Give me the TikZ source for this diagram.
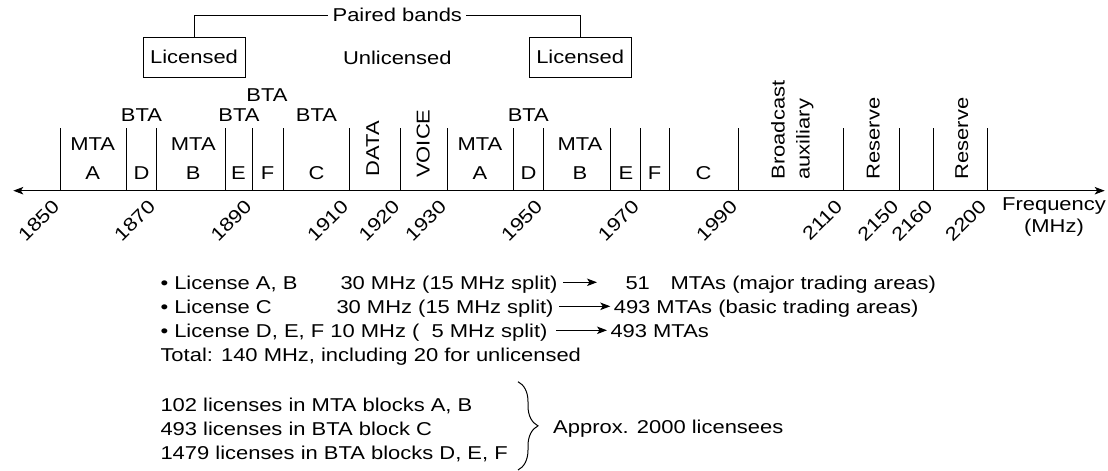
\documentclass[tikz,border=0pt]{standalone}
\usepackage{fontspec}
\setmainfont{Liberation Sans}[FakeStretch=1.18]
\usetikzlibrary{arrows.meta,positioning,decorations.pathreplacing}

\tikzset{
  lbl/.style={inner sep=0pt, anchor=base},
  txt/.style={inner sep=0pt, anchor=base west, text height=13.4pt, text depth=0pt},
  band/.style={draw, minimum width=102pt, minimum height=40pt, inner sep=0pt},
  vlbl/.style={inner sep=0pt, anchor=base west, rotate=90},
  yr/.style={inner sep=0pt, anchor=base east, rotate=45},
  arr/.style={->, shorten <=5pt, shorten >=3pt},
}

\begin{document}
\begin{tikzpicture}[x=1pt,y=-1pt,line width=1pt,
    font=\fontsize{18.6}{24}\selectfont,
    >={Stealth[length=10pt,width=7.5pt,inset=2.5pt]}]
    \useasboundingbox (0,0) rectangle (1108,471);

    % paired bands
    \node[band] (lic1) at (194,57.3) {Licensed};
    \node[band] (lic2) at (580.2,57.3) {Licensed};
    \node[lbl] (unlic) at (397.3,64.5) {Unlicensed};
    \node[lbl, inner sep=4pt] (paired) at (397.3,21.7) {Paired bands};
    \draw (lic1.north) |- (paired.west);
    \draw (paired.east) -| (lic2.north);

    % frequency axis
    \coordinate (left) at (13.3,190.7);
    \coordinate (right) at (1104.7,190.7);
    \draw[<->] (left) -- (right);
    \foreach \x in {60.3,126.7,156.3,225,252.7,283.3,349.3,400.7,447.3,513.3,
        543.3,610.7,640,669.3,738.3,843.3,899.7,933.7,987.3}
        \draw (\x,128.3) -- (\x,190.7);
    \foreach \x/\f in {60.3/1850,156.3/1870,252.7/1890,349.3/1910,400.7/1920,
        447.3/1930,543.3/1950,640/1970,738.3/1990,843.3/2110,899.7/2150,
        933.7/2160,987.3/2200}
        \node[yr] (f\f) at (\x+0.5,207.5) {\f};
    \node[lbl] (freq) at (1054,210.7) {Frequency};
    \node[lbl] (mhz) at (1054,232) {(MHz)};

    % blocks
    \foreach \x/\b [count=\i] in {92.7/A,193.3/B,480/A,580/B} {
        \node[lbl] (mta\i) at (\x,150) {MTA};
        \node[lbl] (mtab\i) at (\x,179) {\b};
    }
    \foreach \x/\b [count=\i] in {141.5/D,238.5/E,267.5/F,316.5/C,528.5/D,
        626/E,654.5/F,703.5/C}
        \node[lbl] (blk\i) at (\x,179) {\b};
    \foreach \x/\y [count=\i] in {141.5/121.7,239/121.7,267/101.7,316.5/121.7,
        528.3/121.7}
        \node[lbl] (bta\i) at (\x,\y) {BTA};
    \node[vlbl] (data) at (379,177) {DATA};
    \node[vlbl] (voice) at (429.5,178.3) {VOICE};
    \node[vlbl] (bcast) at (784.7,180) {Broadcast};
    \node[vlbl] (aux) at (809.5,180) {auxiliary};
    \node[vlbl] (res1) at (879.7,180) {Reserve};
    \node[vlbl] (res2) at (968,180) {Reserve};

    % licenses
    \node[txt] (ab) at (160,289) {• License A, B};
    \node[txt] (abmhz) at (340,289) {30 MHz (15 MHz split)};
    \node[txt] (abnum) at (625,289) {51};
    \node[txt] (abmta) at (670,289) {MTAs (major trading areas)};
    \node[txt] (c) at (160,313) {• License C};
    \node[txt] (cmhz) at (336,313) {30 MHz (15 MHz split)};
    \node[txt] (cmta) at (613.3,313) {493 MTAs (basic trading areas)};
    \node[txt] (def) at (160,337) {• License D, E, F 10 MHz (\phantom{1}5 MHz split)};
    \node[txt] (defmta) at (610,337) {493 MTAs};
    \node[txt] (total) at (160,361) {Total: 140 MHz, including 20 for unlicensed};
    \coordinate (abend) at (597,282.3);
    \draw[arr, shorten >=0pt] (abmhz.east) -- (abend);
    \draw[arr] (cmhz.east) -- (cmhz.east -| cmta.west);
    \draw[arr, shorten <=8pt] (def.east) -- (def.east -| defmta.west);

    \node[txt] (mtaab) at (160,411.5) {102 licenses in MTA blocks A, B};
    \node[txt] (btac) at (160,435) {493 licenses in BTA block C};
    \node[txt] (btadef) at (160,459) {1479 licenses in BTA blocks D, E, F};
    \coordinate (brtop) at (518,381.7);
    \coordinate (brbot) at (518,470);
    \draw[decorate, decoration={brace,amplitude=20pt}] (brtop) -- (brbot);
    \node[txt] (approx) at (552.7,433.5) {Approx. 2000 licensees};
\end{tikzpicture}
\end{document}
